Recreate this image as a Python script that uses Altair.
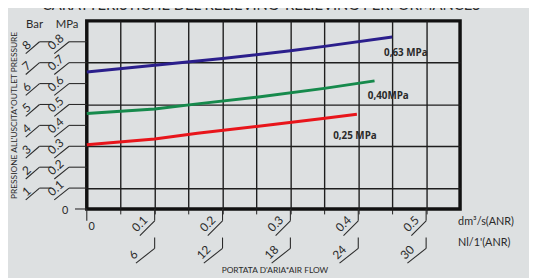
import altair as alt
import pandas as pd

# ---- data ----
flow_063 = [0.0, 0.1, 0.2, 0.3, 0.35, 0.45]
p_063 = [0.655, 0.688, 0.72, 0.757, 0.778, 0.823]
flow_040 = [0.0, 0.1, 0.163, 0.25, 0.35, 0.424]
p_040 = [0.457, 0.478, 0.503, 0.535, 0.577, 0.613]
flow_025 = [0.0, 0.1, 0.163, 0.25, 0.348, 0.398]
p_025 = [0.307, 0.335, 0.362, 0.395, 0.433, 0.453]

series_names = ["0,63 MPa", "0,40MPa", "0,25 MPa"]
series_colors = ["#2b1f8c", "#168a4c", "#e8151b"]
label_x = [0.438, 0.414, 0.363]
label_y = [0.745, 0.538, 0.349]

mpa_ticks = [0.1, 0.2, 0.3, 0.4, 0.5, 0.6, 0.7, 0.8]
mpa_labels = ["0.1", "0.2", "0.3", "0.4", "0.5", "0.6", "0.7", "0.8"]
bar_labels = ["1", "2", "3", "4", "5", "6", "7", "8"]

flow_ticks = [0.1, 0.2, 0.3, 0.4, 0.5]
flow_labels = ["0.1", "0.2", "0.3", "0.4", "0.5"]
nl_labels = ["6", "12", "18", "24", "30"]

grid_x = [0.05, 0.1, 0.15, 0.2, 0.25, 0.3, 0.35, 0.4, 0.45, 0.5]
grid_y = [0.1, 0.2, 0.3, 0.4, 0.5, 0.6, 0.7, 0.8]

title_text = "CARATTERISTICHE DEL RELIEVING*RELIEVING PERFORMANCES"
y_title = "PRESSIONE ALL'USCITA*OUTLET PRESSURE"
x_title = "PORTATA D'ARIA*AIR FLOW"
unit1 = "dm³/s(ANR)"
unit2 = "Nl/1'(ANR)"

FONT = "Lato"
INK = "#2a2a2a"
BG = "#dde0e1"

# ---- tables ----
rows = []
for name, xs_, ys_ in zip(series_names, [flow_063, flow_040, flow_025], [p_063, p_040, p_025]):
    for a, b in zip(xs_, ys_):
        rows.append({"series": name, "flow": a, "p": b})
lines_df = pd.DataFrame(rows)
lab_df = pd.DataFrame({"series": series_names, "x": label_x, "y": label_y})
ydf = pd.DataFrame({"v": mpa_ticks, "mpa": mpa_labels, "bar": bar_labels})
xdf = pd.DataFrame({"v": flow_ticks, "flow": flow_labels, "nl": nl_labels})
zero_df = pd.DataFrame({"v": [0.0], "t": ["0"]})

xs = alt.Scale(domain=[0, 0.55], nice=False, zero=False)
ys = alt.Scale(domain=[0, 0.9], nice=False, zero=False)
cs = alt.Scale(domain=series_names, range=series_colors)

base_axes = alt.Chart(lines_df).mark_line(opacity=0).encode(
    x=alt.X("flow:Q", scale=xs, axis=alt.Axis(values=grid_x, grid=True, gridColor="#1e1e1e",
                                             gridWidth=1.4, labels=False, ticks=True, tickSize=5,
                                             tickColor="#1e1e1e", domain=False, title=None)),
    y=alt.Y("p:Q", scale=ys, axis=alt.Axis(values=grid_y, grid=True, gridColor="#1e1e1e",
                                           gridWidth=1.4, labels=False, ticks=False,
                                           domain=False, title=None)),
)

lines = alt.Chart(lines_df).mark_line(strokeWidth=3).encode(
    x=alt.X("flow:Q", scale=xs),
    y=alt.Y("p:Q", scale=ys),
    color=alt.Color("series:N", scale=cs, legend=None),
)

line_labels = alt.Chart(lab_df).mark_text(align="left", baseline="middle", font="Open Sans",
                                          fontWeight=700, fontSize=10, color=INK).encode(
    x=alt.X("x:Q", scale=xs), y=alt.Y("y:Q", scale=ys), text="series:N")

# ---- y axis decorations ----
yb = alt.Chart(ydf)
deco = dict(color=INK, strokeWidth=1.1)
y_mpa_h = yb.mark_rule(**deco).encode(y=alt.Y("v:Q", scale=ys), x=alt.value(-18), x2=alt.value(0))
y_mpa_d = yb.mark_rule(y2Offset=12, **deco).encode(y=alt.Y("v:Q", scale=ys), y2="v:Q",
                                                    x=alt.value(-18), x2=alt.value(-33))
y_mpa_t = yb.mark_text(angle=318, align="left", baseline="bottom", yOffset=11, font=FONT,
                       fontSize=12, color=INK).encode(y=alt.Y("v:Q", scale=ys), x=alt.value(-33), text="mpa:N")
y_bar_h = yb.mark_rule(**deco).encode(y=alt.Y("v:Q", scale=ys), x=alt.value(-48), x2=alt.value(-36))
y_bar_d = yb.mark_rule(y2Offset=12, **deco).encode(y=alt.Y("v:Q", scale=ys), y2="v:Q",
                                                   x=alt.value(-48), x2=alt.value(-62))
y_bar_t = yb.mark_text(angle=318, align="left", baseline="bottom", yOffset=11, font=FONT,
                       fontSize=12, color=INK).encode(y=alt.Y("v:Q", scale=ys), x=alt.value(-59), text="bar:N")
y_zero_h = alt.Chart(zero_df).mark_rule(**deco).encode(y=alt.Y("v:Q", scale=ys), x=alt.value(-12), x2=alt.value(0))
y_zero_t = alt.Chart(zero_df).mark_text(align="center", baseline="middle", yOffset=2, font=FONT,
                                        fontSize=11, color=INK).encode(y=alt.Y("v:Q", scale=ys), x=alt.value(-22), text="t:N")

# ---- x axis decorations ----
xb = alt.Chart(xdf)
x_v1 = xb.mark_rule(**deco).encode(x=alt.X("v:Q", scale=xs), y=alt.value(191), y2=alt.value(203))
x_d1 = xb.mark_rule(x2Offset=-15, **deco).encode(x=alt.X("v:Q", scale=xs), x2="v:Q",
                                                y=alt.value(203), y2=alt.value(218))
x_t1 = xb.mark_text(angle=315, align="left", baseline="bottom", xOffset=-16, yOffset=-1, font=FONT,
                    fontSize=12, color=INK).encode(x=alt.X("v:Q", scale=xs), y=alt.value(218), text="flow:N")
x_v2 = xb.mark_rule(**deco).encode(x=alt.X("v:Q", scale=xs), y=alt.value(220), y2=alt.value(231))
x_d2 = xb.mark_rule(x2Offset=-19, **deco).encode(x=alt.X("v:Q", scale=xs), x2="v:Q",
                                                y=alt.value(231), y2=alt.value(246))
x_t2 = xb.mark_text(angle=315, align="left", baseline="bottom", xOffset=-19, yOffset=-1, font=FONT,
                    fontSize=12, color=INK).encode(x=alt.X("v:Q", scale=xs), y=alt.value(246), text="nl:N")
x_zero_v = alt.Chart(zero_df).mark_rule(**deco).encode(x=alt.X("v:Q", scale=xs), y=alt.value(191), y2=alt.value(203))
x_zero_t = alt.Chart(zero_df).mark_text(align="center", baseline="middle", xOffset=5, font=FONT,
                                        fontSize=11, color=INK).encode(x=alt.X("v:Q", scale=xs), y=alt.value(209), text="t:N")

# ---- free texts ----
def txt(s, x, y, **kw):
    d = dict(font=FONT, color=INK, fontSize=11)
    d.update(kw)
    return alt.Chart(pd.DataFrame({"t": [s]})).mark_text(**d).encode(
        x=alt.value(x), y=alt.value(y), text="t:N")

texts = [
    txt(title_text, 177, -11, fontSize=15, align="center", baseline="alphabetic"),
    txt("Bar", -53, 4, align="center", baseline="middle", fontSize=11.5),
    txt("MPa", -20, 4, align="center", baseline="middle", fontSize=11.5),
    txt(unit1, 377, 204, align="left", baseline="middle", fontSize=11),
    txt(unit2, 377, 226, align="left", baseline="middle", fontSize=11),
    txt(x_title, 191, 253, align="center", baseline="middle", fontSize=8.5),
    txt(y_title, -74, 96, align="center", baseline="middle", fontSize=8.5, angle=270),
]

chart = alt.layer(
    base_axes, lines, line_labels,
    y_mpa_h, y_mpa_d, y_mpa_t, y_bar_h, y_bar_d, y_bar_t, y_zero_h, y_zero_t,
    x_v1, x_d1, x_t1, x_v2, x_d2, x_t2, x_zero_v, x_zero_t,
    *texts,
).properties(
    width=379, height=191,
    autosize="none",
    padding={"left": 80, "top": 11, "right": 70, "bottom": 68},
    background=BG,
).configure_view(
    stroke="#111", strokeWidth=3.5, fill=BG,
)

chart.save("out.html", embed_options={"renderer": "svg", "actions": False})
